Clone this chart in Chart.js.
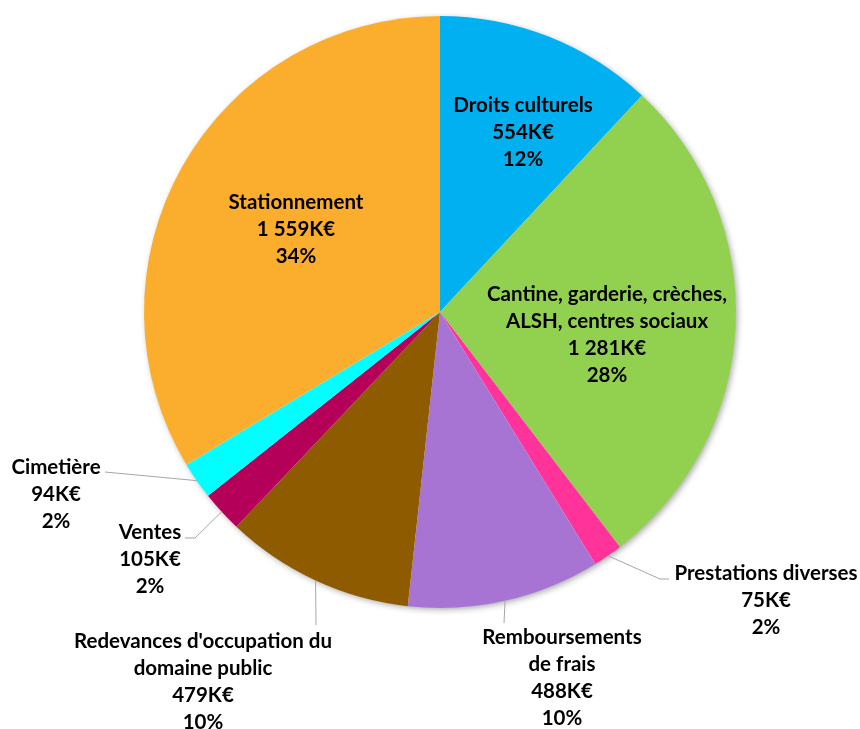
<!DOCTYPE html>
<html>
<head>
<meta charset="utf-8">
<script src="https://cdn.jsdelivr.net/npm/chart.js@4"></script>
<style>
  html, body { margin: 0; padding: 0; background: #fff; }
  #wrap { width: 860px; height: 729px; }
</style>
</head>
<body>
<div id="wrap"><canvas id="recettesChart" width="860" height="729"></canvas></div>
<script>
const categories = [
    ["Droits culturels"],
    ["Cantine, garderie, crèches,", "ALSH, centres sociaux"],
    ["Prestations diverses"],
    ["Remboursements", "de frais"],
    ["Redevances d'occupation du", "domaine public"],
    ["Ventes"],
    ["Cimetière"],
    ["Stationnement"]
];
const valeursKE = [554, 1281, 75, 488, 479, 105, 94, 1559];
const pourcentages = [12, 28, 2, 10, 10, 2, 2, 34];
const couleurs = ["#00B0F0", "#92D050", "#FF3399", "#A874D3", "#8F5B00", "#B5005A", "#00FFFF", "#FBAE2E"];

// position des étiquettes (centre de la 1re ligne) et coudes des lignes de rappel
const placements = [
    { x: 523, y: 105 },
    { x: 607, y: 294 },
    { x: 766, y: 573, coude: [[660, 579], [669, 579]] },
    { x: 562, y: 637, coude: [[504, 623]] },
    { x: 203, y: 641, coude: [[316, 625]] },
    { x: 150, y: 532, coude: [[195, 538], [185, 538]] },
    { x: 56, y: 467, coude: [[105, 472]] },
    { x: 296, y: 202 }
];

const police = "bold 20.5px Lato";
const interligne = 27;

function formatKE(v) {
    return v.toString().replace(/\B(?=(\d{3})+(?!\d))/g, " ") + "K€";
}

const ombrePlugin = {
    id: "ombre",
    beforeDatasetsDraw(chart) {
        const arc = chart.getDatasetMeta(0).data[0];
        if (!arc) return;
        const ctx = chart.ctx;
        ctx.save();
        ctx.shadowColor = "rgba(0,0,0,0.35)";
        ctx.shadowBlur = 6;
        ctx.shadowOffsetX = 2;
        ctx.shadowOffsetY = 2;
        ctx.fillStyle = "#ffffff";
        ctx.beginPath();
        ctx.arc(arc.x, arc.y, arc.outerRadius - 0.5, 0, Math.PI * 2);
        ctx.fill();
        ctx.restore();
    }
};

const etiquettesPlugin = {
    id: "etiquettes",
    afterDatasetsDraw(chart) {
        const ctx = chart.ctx;
        const arcs = chart.getDatasetMeta(0).data;
        ctx.save();
        arcs.forEach((arc, i) => {
            const p = placements[i];
            if (p.coude) {
                const mid = (arc.startAngle + arc.endAngle) / 2;
                ctx.strokeStyle = "#A6A6A6";
                ctx.lineWidth = 1;
                ctx.beginPath();
                ctx.moveTo(arc.x + arc.outerRadius * Math.cos(mid), arc.y + arc.outerRadius * Math.sin(mid));
                p.coude.forEach(pt => ctx.lineTo(pt[0], pt[1]));
                ctx.stroke();
            }
            const lignes = categories[i].concat([formatKE(valeursKE[i]), pourcentages[i] + "%"]);
            ctx.font = police;
            ctx.fillStyle = "#000000";
            ctx.textAlign = "center";
            ctx.textBaseline = "middle";
            lignes.forEach((t, k) => ctx.fillText(t, p.x, p.y + k * interligne));
        });
        ctx.restore();
    }
};

new Chart(document.getElementById("recettesChart"), {
    type: "pie",
    data: {
        labels: categories,
        datasets: [{
            data: valeursKE,
            backgroundColor: couleurs,
            borderWidth: 0
        }]
    },
    options: {
        responsive: false,
        animation: false,
        layout: { padding: { left: 144, right: 124, top: 16, bottom: 121 } },
        plugins: {
            legend: { display: false },
            tooltip: { enabled: false }
        }
    },
    plugins: [ombrePlugin, etiquettesPlugin]
});
</script>
</body>
</html>
